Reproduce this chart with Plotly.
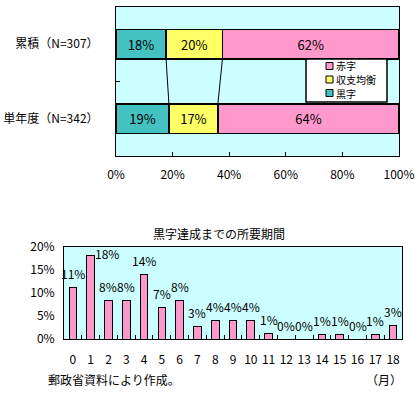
import plotly.graph_objects as go

# ---- top chart data ----
top_categories = ["単年度（N=342）", "累積（N=307）"]
series_names = ["黒字", "収支均衡", "赤字"]
series_colors = ["#44C2C2", "#FFFF66", "#FF99CC"]
top_values = {
    "黒字": [18.7, 17.7],
    "収支均衡": [17.3, 19.9],
    "赤字": [64.0, 62.4],
}
top_xticks = [0, 20, 40, 60, 80, 100]

# ---- bottom chart data ----
months = list(range(19))
month_share = [11.2, 18.1, 8.4, 8.4, 14.0, 6.9, 8.4, 2.8, 4.1, 4.1, 4.1, 1.2,
               0.0, 0.0, 1.0, 1.0, 0.0, 1.0, 3.0]
bottom_yticks = [0, 5, 10, 15, 20]

FONT = "Noto Sans CJK JP"
W, H = 419, 394

fig = go.Figure()

# top stacked horizontal bars
ypos = [0, 1]
for name, col in zip(series_names, series_colors):
    vals = top_values[name]
    fig.add_trace(go.Bar(
        x=vals, y=ypos, orientation="h", name=name, showlegend=False,
        marker=dict(color=col, line=dict(color="black", width=1.5)),
        width=0.4,
        text=[f"{round(v)}%" for v in vals], textposition="inside",
        insidetextanchor="middle",
        textfont=dict(family=FONT, size=13, color="black"),
        xaxis="x", yaxis="y",
    ))

# series lines between stacked boundaries
lx, ly = [], []
cum = [0.0, 0.0]
for name in series_names[:-1]:
    cum = [c + v for c, v in zip(cum, top_values[name])]
    lx += [cum[1], cum[0], None]
    ly += [1 - 0.2, 0 + 0.2, None]
fig.add_trace(go.Scatter(x=lx, y=ly, mode="lines", line=dict(color="black", width=1),
                         showlegend=False, hoverinfo="skip", xaxis="x", yaxis="y"))

# bottom bars
fig.add_trace(go.Bar(
    x=months, y=month_share, showlegend=False,
    marker=dict(color="#FF99CC", line=dict(color="black", width=1)),
    xaxis="x2", yaxis="y2",
))

# bottom value labels
for m, v in zip(months, month_share):
    xs, ys = 0, 14
    if v > 16:
        xs, ys = 16, 2
    fig.add_annotation(x=m, y=v, xref="x2", yref="y2", text=f"{round(v)}%",
                       showarrow=False, xshift=xs, yshift=ys,
                       font=dict(family=FONT, size=12, color="black"))

def px(x):
    return x / W

def py(y):
    return 1 - y / H

fig.update_layout(
    width=W, height=H, margin=dict(l=0, r=0, t=0, b=0, autoexpand=False),
    paper_bgcolor="white", plot_bgcolor="#CCFFFF",
    barmode="stack", bargap=0.57,
    font=dict(family=FONT, size=12, color="black"),
    showlegend=False,
    xaxis=dict(domain=[px(116), px(399)], range=[0, 100], tickvals=top_xticks,
               ticktext=[f"{t}%" for t in top_xticks], ticks="inside", ticklen=4,
               tickcolor="black", showgrid=False, zeroline=False, anchor="y",
               showline=True, linecolor="black", mirror=True, linewidth=1,
               ticklabelstandoff=8, fixedrange=True, automargin=False),
    yaxis=dict(domain=[py(156), py(7)], range=[-0.5, 1.5], tickvals=ypos,
               ticktext=top_categories, ticks="", showgrid=False, zeroline=False,
               showline=True, linecolor="black", mirror=True, linewidth=1,
               ticklabelstandoff=14, anchor="x", automargin=False,
               minor=dict(tickvals=[0.5], ticks="inside", ticklen=4, tickcolor="black"),
               fixedrange=True),
    xaxis2=dict(domain=[px(64), px(402)], range=[-0.5, 18.5], tickvals=months,
                ticks="", showgrid=False, zeroline=False, anchor="y2",
                showline=True, linecolor="black", mirror=True, linewidth=1,
                minor=dict(tickvals=[m + 0.5 for m in months[:-1]], ticks="inside",
                           ticklen=4, tickcolor="black"),
                ticklabelstandoff=10, fixedrange=True, automargin=False),
    yaxis2=dict(domain=[py(339), py(246.7)], range=[0, 20], tickvals=bottom_yticks,
                ticktext=[f"{t}%" for t in bottom_yticks], ticks="", showgrid=False,
                zeroline=False, showline=True, linecolor="black", mirror=True,
                anchor="x2", linewidth=1, ticklabelstandoff=6, fixedrange=True,
                automargin=False),
)

# legend box (drawn by hand, entries in reversed order as in the reference)
fig.add_shape(type="rect", xref="paper", yref="paper",
              x0=px(306), x1=px(387), y0=py(102), y1=py(59),
              fillcolor="white", line=dict(color="black", width=1.5), layer="above")
legend_rows = [66, 79.5, 93]
for row_y, name, col in zip(legend_rows, series_names[::-1], series_colors[::-1]):
    fig.add_shape(type="rect", xref="paper", yref="paper",
                  x0=px(326), x1=px(333), y0=py(row_y + 3.5), y1=py(row_y - 3.5),
                  fillcolor=col, line=dict(color="black", width=1), layer="above")
    fig.add_annotation(text=name, x=px(334), y=py(row_y), xref="paper", yref="paper",
                       showarrow=False, xanchor="left", yanchor="middle",
                       font=dict(family=FONT, size=10))

fig.add_annotation(text="黒字達成までの所要期間", x=px(219), y=py(233), xref="paper", yref="paper",
                   showarrow=False, xanchor="center", yanchor="middle",
                   font=dict(family=FONT, size=12))
fig.add_annotation(text="郵政省資料により作成。", x=px(46), y=py(379), xref="paper", yref="paper",
                   showarrow=False, xanchor="left", yanchor="middle",
                   font=dict(family=FONT, size=12))
fig.add_annotation(text="（月）", x=px(404), y=py(379), xref="paper", yref="paper",
                   showarrow=False, xanchor="right", yanchor="middle",
                   font=dict(family=FONT, size=12))

fig.write_html("out.html", config={"displayModeBar": False},
               post_script="document.body.style.margin='0';document.body.style.overflow='hidden';")
